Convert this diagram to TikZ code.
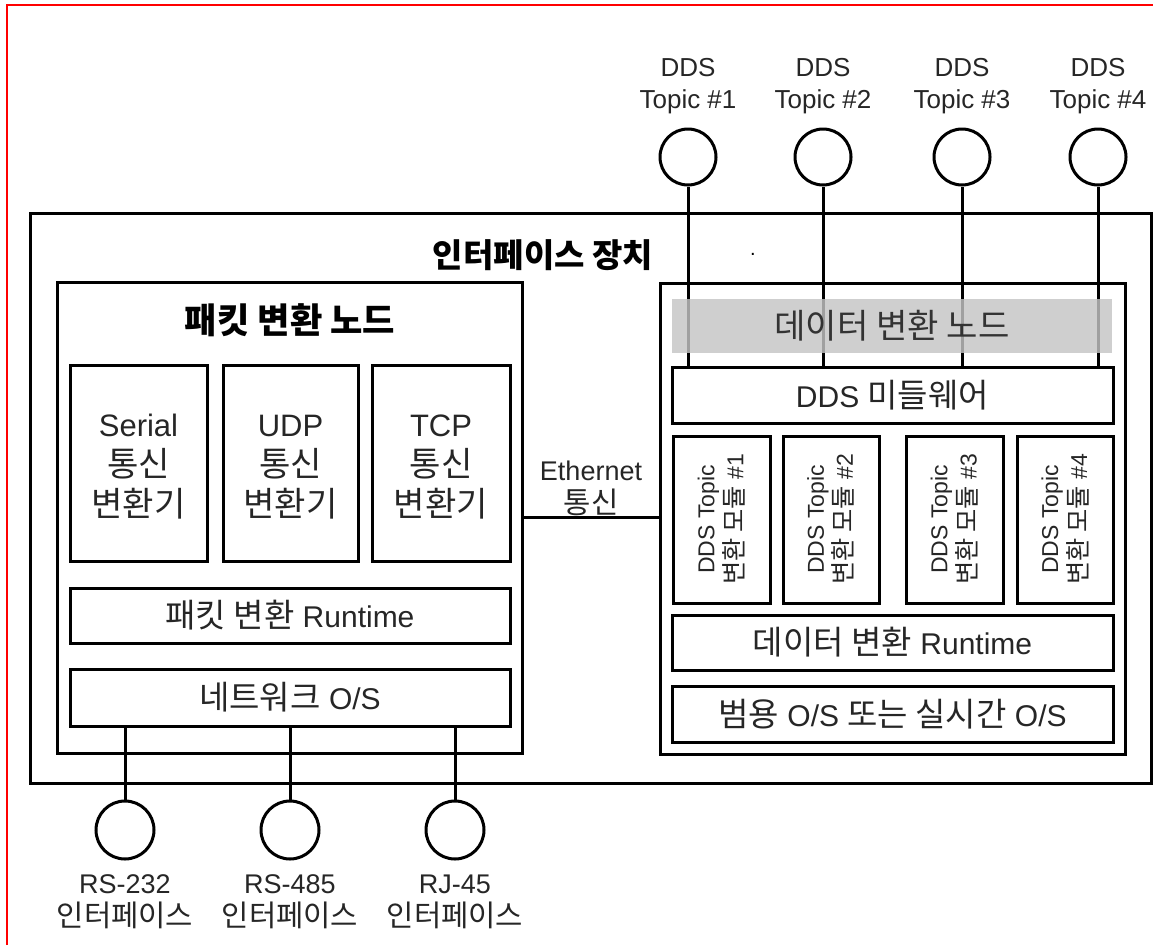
\documentclass[tikz,border=0pt]{standalone}
\usepackage{fontspec}
\setmainfont{Liberation Sans}
\newfontfamily\kr[Scale=1.1]{Noto Sans CJK KR}
\newcommand{\ko}[1]{{\kr #1}}

\begin{document}
\begin{tikzpicture}[x=1pt, y=-1pt,
  blk/.style={draw, line width=3pt, inner sep=0pt, align=center, text=black!85,
    font=\fontsize{30}{38}\selectfont},
  port/.style={draw, circle, line width=3pt, minimum size=56pt, inner sep=0pt},
  plabel/.style={align=center, inner sep=0pt, text=black!85, font=\fontsize{26}{32}\selectfont},
  wire/.style={line width=3pt}]

  \useasboundingbox (0,0) rectangle (1153,945);
  \draw[red, line width=1.5pt] (7,945) -- (7,5) -- (1153,5);

  % interface device
  \node[blk, minimum width=1121pt, minimum height=570pt] (dev) at (590.5,498) {};
  \node[font=\kr\bfseries\fontsize{30}{36}\selectfont] (devtitle) at (543,255) {인터페이스 장치};
  \node[font=\fontsize{20}{20}\selectfont] (dot) at (753,254) {.};

  % packet conversion node
  \node[blk, minimum width=465pt, minimum height=471pt] (pkt) at (289.5,517.5) {};
  \node[font=\kr\bfseries\fontsize{32}{36}\selectfont] (pkttitle) at (290,320) {패킷 변환 노드};
  \node[blk, minimum width=137pt, minimum height=196pt, font=\fontsize{31}{40}\selectfont] (serial) at (138.5,463)
    {}; 
  \node[align=center, text=black!85, font=\fontsize{31}{40}\selectfont] (serialtxt) at (138.5,467)
    {Serial\\\ko{통신}\\\ko{변환기}};
  \node[blk, minimum width=135pt, minimum height=196pt] (udp) at (290.5,463) {};
  \node[align=center, text=black!85, font=\fontsize{31}{40}\selectfont] (udptxt) at (290.5,467)
    {UDP\\\ko{통신}\\\ko{변환기}};
  \node[blk, minimum width=138pt, minimum height=196pt] (tcp) at (441,463) {};
  \node[align=center, text=black!85, font=\fontsize{31}{40}\selectfont] (tcptxt) at (441,467)
    {TCP\\\ko{통신}\\\ko{변환기}};
  \node[blk, minimum width=440pt, minimum height=55pt] (pktrt) at (290,615.5) {\ko{패킷 변환} Runtime};
  \node[blk, minimum width=440pt, minimum height=57pt] (netos) at (290,697.5) {\ko{네트워크} O/S};

  % data conversion node
  \node[blk, minimum width=465pt, minimum height=471pt] (dat) at (892.5,518.5) {};
  \node[blk, minimum width=441pt, minimum height=56pt] (mw) at (892.5,395) {DDS \ko{미들웨어}};
  \foreach \n/\x/\w in {1/721.5/97, 2/831/96, 3/954.5/97, 4/1065/96} {
    \node[blk, minimum width=\w pt, minimum height=167pt] (mod\n) at (\x,519.5) {};
    \node[rotate=90, align=center, text=black!85, font=\fontsize{23}{29}\selectfont] (modtxt\n) at (mod\n)
      {DDS Topic\\\ko{변환 모듈} \#\n};
  }
  \node[blk, minimum width=441pt, minimum height=55pt] (datrt) at (892.5,642.5) {\ko{데이터 변환} Runtime};
  \node[blk, minimum width=441pt, minimum height=56pt] (os) at (892.5,714) {\ko{범용} O/S \ko{또는 실시간} O/S};

  % DDS topics
  \foreach \n/\x in {1/688, 2/823, 3/962, 4/1098} {
    \node[port] (t\n) at (\x,157) {};
    \node[plabel] (tl\n) at (\x,86) {DDS\\Topic \#\n};
    \draw[wire] (t\n.south) -- (t\n.south |- mw.north);
  }
  \node[fill={rgb,255:red,196;green,196;blue,196}, fill opacity=0.82, inner sep=0pt,
    minimum width=440pt, minimum height=54pt] (band) at (892,326) {};
  \node[text=black!80, font=\kr\fontsize{31}{36}\selectfont] (bandtxt) at (band) {데이터 변환 노드};

  % ethernet link
  \draw[wire] (pkt.east) -- (pkt.east -| dat.west);
  \node[plabel, font=\fontsize{27}{33}\selectfont] (eth) at (591,488) {Ethernet\\\ko{통신}};

  % physical interfaces
  \foreach \n/\x/\name in {1/125/RS-232, 2/290/RS-485, 3/455/RJ-45} {
    \node[port, minimum size=58pt] (b\n) at (\x,830) {};
    \draw[wire] (b\n.north |- netos.south) -- (b\n.north);
    \node[plabel, font=\fontsize{27}{33}\selectfont] (bl\n) at (\x,902) {\name\\\ko{인터페이스}};
  }
\end{tikzpicture}
\end{document}
